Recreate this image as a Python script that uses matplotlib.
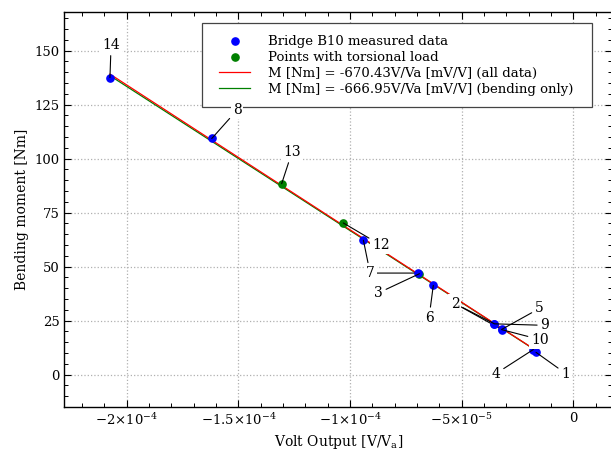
import matplotlib
matplotlib.use("Agg")
import matplotlib.pyplot as plt
from matplotlib.ticker import MultipleLocator, FuncFormatter
from matplotlib.patches import Rectangle
import numpy as np

plt.rcParams['font.family'] = ['DejaVu Serif']
plt.rcParams['mathtext.fontset'] = 'dejavuserif'

# ---- data ----
point_ids = [14, 8, 13, 11, 12, 7, 3, 6, 2, 9, 5, 10, 4, 1]
volt = [-2.075e-4, -1.619e-4, -1.306e-4, -1.030e-4, -9.40e-5, -6.94e-5, -6.89e-5,
        -6.27e-5, -3.55e-5, -3.54e-5, -3.21e-5, -3.20e-5, -1.79e-5, -1.67e-5]
moment = [137.5, 109.3, 88.4, 70.2, 62.2, 47.0, 46.7,
          41.3, 23.6, 23.5, 20.9, 20.8, 11.6, 10.3]
torsional_ids = [13, 11, 3]

slope_all = -670.43      # Nm per mV/V
slope_bending = -666.95  # Nm per mV/V

legend_labels = ["Bridge B10 measured data", "Points with torsional load",
                 "M [Nm] = -670.43V/Va [mV/V] (all data)",
                 "M [Nm] = -666.95V/Va [mV/V] (bending only)"]

# label placement (text position in data coords); '' = extra leader line only
label_text = ["", "", 14, 8, 13, 12, 7, 3, 6, 2, 5, 9, 10, 4, 1]
label_point = [7, 5, 14, 8, 13, 11, 12, 3, 6, 2, 5, 9, 10, 4, 1]
label_x = [-9.10e-5, -5.30e-5, -2.070e-4, -1.506e-4, -1.260e-4, -8.61e-5, -9.10e-5, -8.73e-5,
           -6.46e-5, -5.30e-5, -1.52e-5, -1.27e-5, -1.49e-5, -3.46e-5, -3.4e-6]
label_y = [47.0, 32.9, 152.5, 122.4, 102.9, 59.9, 47.0, 37.8,
           26.4, 32.9, 30.6, 22.8, 16.2, 0.5, 0.5]

# ---- figure ----
W, H = 611, 450
fig = plt.figure(figsize=(W/100, H/100), dpi=100)
ax_l, ax_r, ax_t, ax_b = 64.3, 612.0, 11.7, 407.0
ax = fig.add_axes([ax_l/W, 1-ax_b/H, (ax_r-ax_l)/W, (ax_b-ax_t)/H])

volt_a = np.array(volt)
moment_a = np.array(moment)
is_tors = np.array([pid in torsional_ids for pid in point_ids])

xfit = np.array([volt_a.min(), volt_a.max()])
ax.plot(xfit, slope_bending * 1000 * xfit, color='#008000', lw=0.9, zorder=2,
        label=legend_labels[3])
ax.plot(xfit, slope_all * 1000 * xfit, color='#ff0000', lw=0.9, zorder=2.1,
        label=legend_labels[2])

ax.plot(volt_a[~is_tors], moment_a[~is_tors], 'o', color='#0000ff', ms=5.2,
        ls='none', zorder=5, label=legend_labels[0])
ax.plot(volt_a[is_tors], moment_a[is_tors], 'o', color='#008000', ms=5.2,
        ls='none', zorder=4, label=legend_labels[1])

for t, p, tx, ty in zip(label_text, label_point, label_x, label_y):
    i = point_ids.index(p)
    if t == "":
        ax.annotate("", xy=(volt[i], moment[i]), xytext=(tx, ty),
                    arrowprops=dict(arrowstyle='-', color='black', lw=0.8,
                                    shrinkA=0, shrinkB=0),
                    zorder=3.5)
    else:
        ax.annotate(str(t), xy=(volt[i], moment[i]), xytext=(tx, ty),
                    ha='center', va='center', fontsize=10,
                    bbox=dict(boxstyle='square,pad=0.15', fc='white', ec='none'),
                    arrowprops=dict(arrowstyle='-', color='black', lw=0.8,
                                    shrinkA=1, shrinkB=0),
                    zorder=6)

x_per_px = 2e-4 / (573.3 - 126.7)
ax.set_xlim(-(573.3 - ax_l) * x_per_px, (ax_r - 573.3) * x_per_px)
ax.set_ylim(-15, 168)

def xfmt(v, pos):
    if abs(v) < 1e-12:
        return '0'
    e = int(np.floor(np.log10(abs(v))))
    m = v / 10**e
    return r'$%s{\times}10^{%d}$' % ('%g' % m, e)

ax.xaxis.set_major_locator(MultipleLocator(5e-5))
ax.xaxis.set_minor_locator(MultipleLocator(1e-5))
ax.xaxis.set_major_formatter(FuncFormatter(xfmt))
ax.yaxis.set_major_locator(MultipleLocator(25))
ax.yaxis.set_minor_locator(MultipleLocator(5))

ax.tick_params(which='both', direction='in', top=True, right=True, labelsize=9.5)
ax.tick_params(which='major', length=5, width=0.8)
ax.tick_params(which='minor', length=2.8, width=0.7)
ax.grid(True, which='major', color='#b0b0b0', ls=':', lw=0.9)
ax.set_axisbelow(True)
for s in ax.spines.values():
    s.set_linewidth(1.0)

ax.set_xlabel(r'Volt Output [V/V$_\mathrm{a}$]', fontsize=10)
ax.set_ylabel('Bending moment [Nm]', fontsize=10)

# legend frame drawn manually (wider horizontal padding as in reference)
fl, fr, ft, fb = 202.3, 592.0, 22.7, 107.3
frame = Rectangle((fl/W, 1-fb/H), (fr-fl)/W, (fb-ft)/H, transform=fig.transFigure,
                  fc='white', ec='#444444', lw=0.9, zorder=2.9)
ax.add_patch(frame)
frame.set_clip_on(False)

h, l = ax.get_legend_handles_labels()
hmap = dict(zip(l, h))
ax_w = ax_r - ax_l
ax_h = ax_b - ax_t
leg = ax.legend([hmap[x] for x in legend_labels], legend_labels,
                loc='upper right',
                bbox_to_anchor=((fr - 19 + 12.5 - ax_l)/ax_w, (ax_b - ft)/ax_h),
                borderaxespad=0, frameon=False,
                fontsize=9.5, handlelength=2.3,
                labelspacing=0.22, borderpad=0.95, handletextpad=1.35)
leg.set_zorder(3)

fig.savefig('out.png', dpi=100)
